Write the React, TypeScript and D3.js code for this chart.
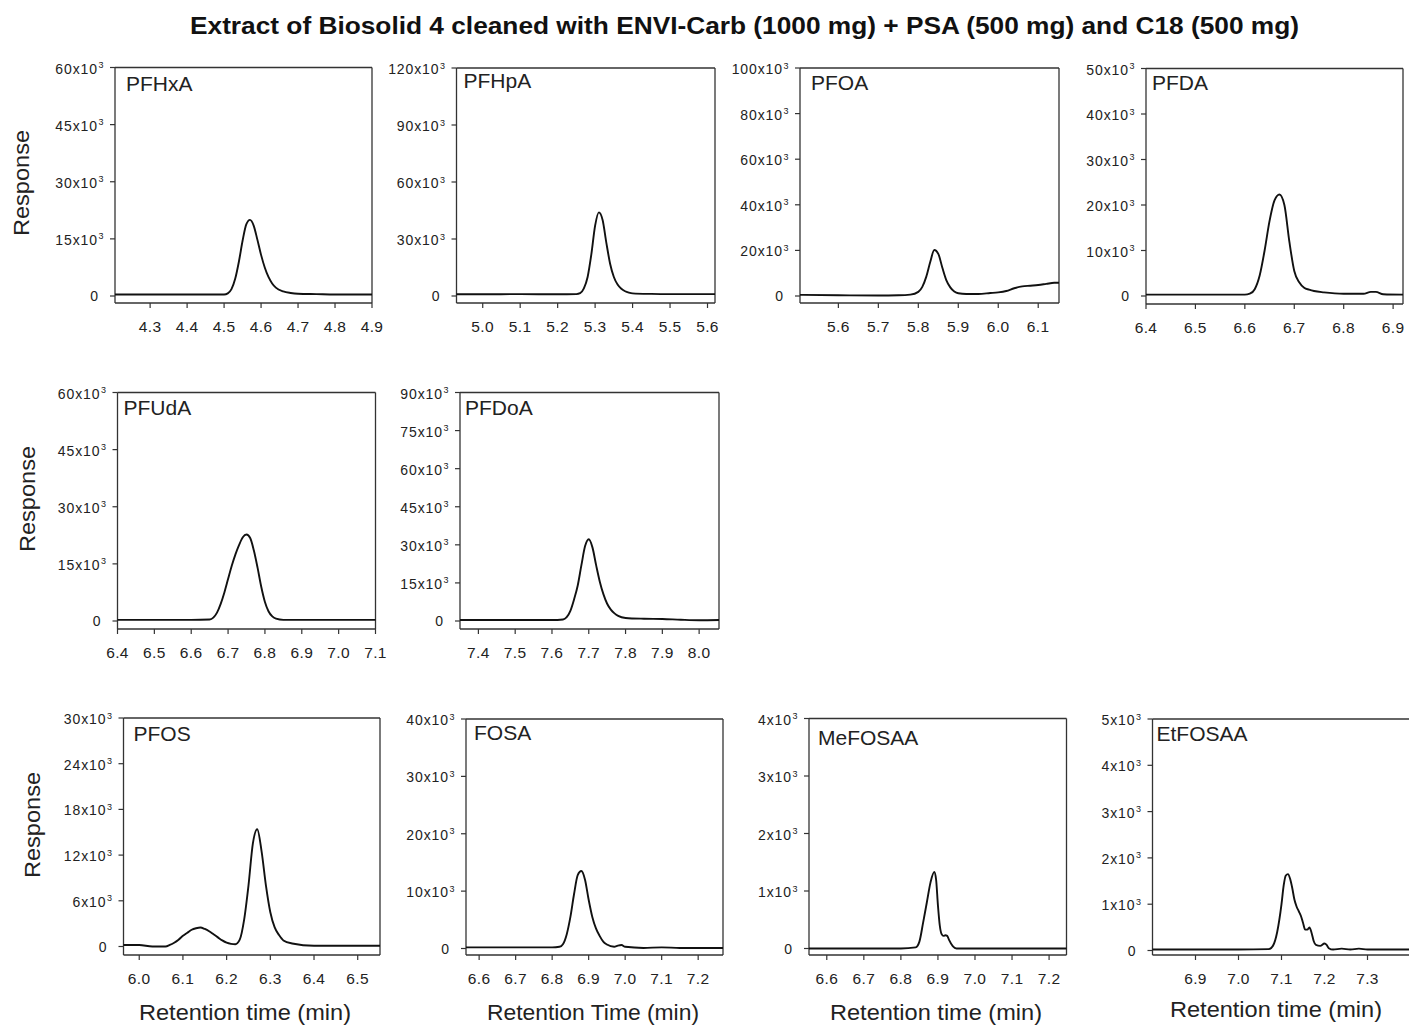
import * as d3 from "d3";

const WIDTH = 1409;
const HEIGHT = 1025;
const FONT = "Arial, 'Liberation Sans', Helvetica, sans-serif";

const TITLE = "Extract of Biosolid 4 cleaned with ENVI-Carb (1000 mg) + PSA (500 mg) and C18 (500 mg)";

// chromatogram traces: [retention time (min), response (x10^3)]
const PFHXA: [number, number][] = [
  [4.205, 0.4], [4.3, 0.4], [4.4, 0.4], [4.5, 0.4], [4.51, 0.7], [4.52, 1.8], [4.53, 4.5], [4.54, 9],
  [4.55, 14.5], [4.56, 18.8], [4.57, 20], [4.58, 18.5], [4.59, 14.8], [4.6, 10.8], [4.61, 7.5],
  [4.62, 5], [4.63, 3.3], [4.64, 2.2], [4.66, 1.2], [4.68, 0.8], [4.7, 0.6], [4.75, 0.5], [4.8, 0.4], [4.9, 0.4],
];
const PFHPA: [number, number][] = [
  [4.93, 0.9], [5.0, 0.9], [5.1, 1.0], [5.2, 0.9], [5.25, 1.0], [5.26, 1.5], [5.27, 4], [5.28, 10],
  [5.29, 22], [5.3, 37], [5.31, 44], [5.32, 40], [5.33, 28], [5.34, 17], [5.35, 10], [5.36, 6],
  [5.37, 3.8], [5.38, 2.5], [5.39, 1.8], [5.4, 1.4], [5.45, 1.1], [5.5, 1.0], [5.6, 1.0], [5.62, 1.0],
];
const PFOA: [number, number][] = [
  [5.504, 0.5], [5.6, 0.3], [5.7, 0.2], [5.75, 0.3], [5.78, 0.6], [5.8, 1.8], [5.81, 4], [5.82, 8.5],
  [5.83, 15], [5.84, 20.2], [5.85, 18.5], [5.86, 12.5], [5.87, 7], [5.88, 3.8], [5.89, 2], [5.9, 1.2],
  [5.92, 0.9], [5.95, 0.9], [5.98, 1.3], [6.0, 1.6], [6.02, 2.2], [6.04, 3.4], [6.06, 4.2], [6.08, 4.5],
  [6.1, 4.8], [6.12, 5.3], [6.14, 5.8], [6.152, 5.8],
];
const PFDA: [number, number][] = [
  [6.4, 0.3], [6.5, 0.3], [6.6, 0.3], [6.61, 0.5], [6.62, 1.5], [6.63, 4.5], [6.64, 10], [6.65, 16.5],
  [6.66, 21], [6.67, 22.3], [6.68, 20], [6.69, 12], [6.7, 5.5], [6.71, 3], [6.72, 1.8], [6.73, 1.4],
  [6.74, 1.1], [6.76, 0.8], [6.8, 0.5], [6.84, 0.5], [6.855, 0.9], [6.865, 0.9], [6.88, 0.4], [6.92, 0.3],
];
const PFUDA: [number, number][] = [
  [6.4, 0.3], [6.5, 0.3], [6.6, 0.3], [6.65, 0.4], [6.66, 0.9], [6.67, 2.2], [6.68, 4.5], [6.69, 7.5],
  [6.7, 11], [6.71, 14.5], [6.72, 17.5], [6.73, 20], [6.74, 22], [6.75, 22.7], [6.76, 21.8], [6.77, 18.5],
  [6.78, 14], [6.79, 9], [6.8, 5], [6.81, 2.5], [6.82, 1.2], [6.83, 0.6], [6.85, 0.3], [6.9, 0.3],
  [7.0, 0.3], [7.1, 0.3],
];
const PFDOA: [number, number][] = [
  [7.35, 0.4], [7.4, 0.4], [7.5, 0.4], [7.6, 0.4], [7.63, 0.6], [7.64, 1.5], [7.65, 4], [7.66, 8.5],
  [7.67, 14], [7.68, 22], [7.69, 29.5], [7.7, 32.2], [7.71, 29], [7.72, 22], [7.73, 15.5], [7.74, 10.5],
  [7.75, 6.8], [7.76, 4.5], [7.77, 3], [7.78, 2], [7.8, 1.2], [7.85, 0.9], [7.9, 0.8], [7.95, 0.5],
  [8.0, 0.3], [8.054, 0.4],
];
const PFOS: [number, number][] = [
  [5.964, 0.2], [6.0, 0.2], [6.03, 0.0], [6.06, 0.0], [6.07, 0.2], [6.08, 0.5], [6.09, 0.9], [6.1, 1.4],
  [6.11, 1.8], [6.12, 2.2], [6.13, 2.4], [6.14, 2.5], [6.15, 2.3], [6.16, 2.0], [6.17, 1.6], [6.18, 1.2],
  [6.19, 0.8], [6.2, 0.5], [6.21, 0.35], [6.22, 0.3], [6.23, 0.9], [6.24, 3.5], [6.25, 8], [6.26, 13.5],
  [6.27, 15.4], [6.28, 12.5], [6.29, 8], [6.3, 4.5], [6.31, 2.5], [6.32, 1.5], [6.33, 0.8], [6.35, 0.4],
  [6.4, 0.1], [6.45, 0.1], [6.5, 0.1], [6.551, 0.1],
];
const FOSA: [number, number][] = [
  [6.564, 0.2], [6.6, 0.2], [6.7, 0.2], [6.8, 0.2], [6.82, 0.3], [6.83, 0.8], [6.84, 2.5], [6.85, 5.5],
  [6.86, 9.5], [6.87, 12.8], [6.88, 13.5], [6.89, 12], [6.9, 8.5], [6.91, 5.5], [6.92, 3.5], [6.93, 2.2],
  [6.94, 1.2], [6.95, 0.7], [6.97, 0.3], [6.98, 0.5], [6.99, 0.6], [7.0, 0.3], [7.05, 0.1], [7.1, 0.2],
  [7.15, 0.1], [7.2, 0.1], [7.268, 0.1],
];
const MEFOSAA: [number, number][] = [
  [6.552, 0], [6.6, 0], [6.7, 0], [6.8, 0], [6.84, 0.02], [6.85, 0.12], [6.86, 0.45], [6.87, 0.8],
  [6.88, 1.15], [6.89, 1.33], [6.895, 1.2], [6.9, 0.75], [6.905, 0.4], [6.91, 0.25], [6.915, 0.22],
  [6.92, 0.23], [6.925, 0.22], [6.93, 0.15], [6.94, 0.04], [6.95, 0], [7.0, 0], [7.1, 0], [7.2, 0], [7.247, 0],
];
const ETFOSAA: [number, number][] = [
  [6.8, 0.02], [6.9, 0.02], [7.0, 0.02], [7.07, 0.03], [7.08, 0.1], [7.09, 0.4], [7.1, 1.0], [7.105, 1.4],
  [7.11, 1.62], [7.115, 1.65], [7.12, 1.55], [7.125, 1.35], [7.13, 1.1], [7.135, 0.95], [7.14, 0.85],
  [7.145, 0.75], [7.15, 0.6], [7.155, 0.45], [7.16, 0.45], [7.165, 0.5], [7.17, 0.38], [7.175, 0.2],
  [7.18, 0.12], [7.19, 0.1], [7.2, 0.15], [7.205, 0.12], [7.21, 0.05], [7.22, 0.02], [7.24, 0.04],
  [7.26, 0.02], [7.28, 0.04], [7.3, 0.02], [7.4, 0.02],
];

// axis ticks
const X_TICKS = {
  PFHxA: [4.3, 4.4, 4.5, 4.6, 4.7, 4.8, 4.9],
  PFHpA: [5.0, 5.1, 5.2, 5.3, 5.4, 5.5, 5.6],
  PFOA: [5.6, 5.7, 5.8, 5.9, 6.0, 6.1],
  PFDA: [6.4, 6.5, 6.6, 6.7, 6.8, 6.9],
  PFUdA: [6.4, 6.5, 6.6, 6.7, 6.8, 6.9, 7.0, 7.1],
  PFDoA: [7.4, 7.5, 7.6, 7.7, 7.8, 7.9, 8.0],
  PFOS: [6.0, 6.1, 6.2, 6.3, 6.4, 6.5],
  FOSA: [6.6, 6.7, 6.8, 6.9, 7.0, 7.1, 7.2],
  MeFOSAA: [6.6, 6.7, 6.8, 6.9, 7.0, 7.1, 7.2],
  EtFOSAA: [6.9, 7.0, 7.1, 7.2, 7.3],
};
const Y_TICKS = {
  PFHxA: [0, 15, 30, 45, 60],
  PFHpA: [0, 30, 60, 90, 120],
  PFOA: [0, 20, 40, 60, 80, 100],
  PFDA: [0, 10, 20, 30, 40, 50],
  PFUdA: [0, 15, 30, 45, 60],
  PFDoA: [0, 15, 30, 45, 60, 75, 90],
  PFOS: [0, 6, 12, 18, 24, 30],
  FOSA: [0, 10, 20, 30, 40],
  MeFOSAA: [0, 1, 2, 3, 4],
  EtFOSAA: [0, 1, 2, 3, 4, 5],
};

const X_DOMAINS = {
  PFHxA: [4.205, 4.9],
  PFHpA: [4.93, 5.62],
  PFOA: [5.504, 6.152],
  PFDA: [6.4, 6.92],
  PFUdA: [6.4, 7.1],
  PFDoA: [7.35, 8.054],
  PFOS: [5.964, 6.551],
  FOSA: [6.564, 7.268],
  MeFOSAA: [6.552, 7.247],
  EtFOSAA: [6.8, 7.4],
};

const TRACES = { PFHxA: PFHXA, PFHpA: PFHPA, PFOA, PFDA, PFUdA: PFUDA, PFDoA: PFDOA, PFOS, FOSA, MeFOSAA: MEFOSAA, EtFOSAA: ETFOSAA };

// panel boxes in pixels
const LAYOUT = [
  { name: "PFHxA", x0: 115, x1: 372, yTop: 67.5, yZero: 296, yAxis: 303, ldx: 11, ldy: 23 },
  { name: "PFHpA", x0: 456.5, x1: 715, yTop: 68, yZero: 296, yAxis: 303, ldx: 7, ldy: 20 },
  { name: "PFOA", x0: 800, x1: 1059, yTop: 68, yZero: 296, yAxis: 303, ldx: 11, ldy: 22 },
  { name: "PFDA", x0: 1146, x1: 1403, yTop: 68.5, yZero: 296, yAxis: 304, ldx: 6, ldy: 21 },
  { name: "PFUdA", x0: 117.5, x1: 375.5, yTop: 392.5, yZero: 621, yAxis: 629, ldx: 6, ldy: 22 },
  { name: "PFDoA", x0: 460, x1: 719, yTop: 392.5, yZero: 621, yAxis: 629, ldx: 5, ldy: 22 },
  { name: "PFOS", x0: 123.5, x1: 380, yTop: 718, yZero: 946.5, yAxis: 955, ldx: 10, ldy: 23 },
  { name: "FOSA", x0: 466, x1: 723, yTop: 719, yZero: 948.5, yAxis: 955, ldx: 8, ldy: 21 },
  { name: "MeFOSAA", x0: 809, x1: 1066.5, yTop: 718.5, yZero: 948.5, yAxis: 955, ldx: 9, ldy: 26 },
  { name: "EtFOSAA", x0: 1152.5, x1: 1410.5, yTop: 719, yZero: 950.5, yAxis: 955, ldx: 4, ldy: 22 },
];

const RESPONSE_LABELS = [
  { x: 29, y: 183 },
  { x: 35, y: 499 },
  { x: 40, y: 825 },
];
const X_TITLES = [
  { text: "Retention time (min)", x: 245, y: 1020 },
  { text: "Retention Time (min)", x: 593, y: 1020 },
  { text: "Retention time (min)", x: 936, y: 1020 },
  { text: "Retention time (min)", x: 1276, y: 1017 },
];

function Panel({ p }) {
  const xs = X_DOMAINS[p.name];
  const yt = Y_TICKS[p.name];
  const yMax = yt[yt.length - 1];
  const x = d3.scaleLinear().domain(xs).range([p.x0, p.x1]);
  const y = d3.scaleLinear().domain([0, yMax]).range([p.yZero, p.yTop]);
  const line = d3
    .line<[number, number]>()
    .x((d) => x(d[0]))
    .y((d) => y(d[1]))
    .curve(d3.curveMonotoneX);
  const axisColor = "#333";

  return (
    <g>
      {/* frame */}
      <line x1={p.x0} x2={p.x1} y1={p.yTop} y2={p.yTop} stroke={axisColor} strokeWidth={1.3} />
      <line x1={p.x1} x2={p.x1} y1={p.yTop} y2={p.yAxis} stroke={axisColor} strokeWidth={1.3} />
      <line x1={p.x0} x2={p.x0} y1={p.yTop} y2={p.yAxis} stroke={axisColor} strokeWidth={1.3} />
      <line x1={p.x0} x2={p.x1} y1={p.yAxis} y2={p.yAxis} stroke={axisColor} strokeWidth={1.3} />

      {yt.map((t) => (
        <g key={`y${t}`}>
          <line x1={p.x0 - 5} x2={p.x0} y1={y(t)} y2={y(t)} stroke={axisColor} strokeWidth={1.2} />
          {t === 0 ? (
            <text x={p.x0 - 17} y={y(t) + 5} textAnchor="end" fontSize={14} fill="#222">
              0
            </text>
          ) : (
            <>
              <text x={p.x0 - 17} y={y(t) + 6} textAnchor="end" fontSize={14} fill="#222" letterSpacing={0.9}>
                {`${t}x10`}
              </text>
              <text x={p.x0 - 16.5} y={y(t) + 0.5} fontSize={9} fill="#222">
                3
              </text>
            </>
          )}
        </g>
      ))}

      {X_TICKS[p.name].map((t) => (
        <g key={`x${t}`}>
          <line x1={x(t)} x2={x(t)} y1={p.yAxis} y2={p.yAxis + 5} stroke={axisColor} strokeWidth={1.2} />
          <text x={x(t)} y={p.yAxis + 28.5} textAnchor="middle" fontSize={15.5} fill="#222" letterSpacing={0.4}>
            {t.toFixed(1)}
          </text>
        </g>
      ))}

      <path d={line(TRACES[p.name]) || ""} fill="none" stroke="#111" strokeWidth={1.9} strokeLinejoin="round" />

      <text x={p.x0 + p.ldx} y={p.yTop + p.ldy} fontSize={21} fill="#222">
        {p.name}
      </text>
    </g>
  );
}

export default function App() {
  return (
    <svg
      width={WIDTH}
      height={HEIGHT}
      viewBox={`0 0 ${WIDTH} ${HEIGHT}`}
      style={{ position: "absolute", left: 0, top: 0, background: "#fff" }}
      fontFamily={FONT}
    >
      <rect width={WIDTH} height={HEIGHT} fill="#fff" />
      <text x={744.5} y={34} textAnchor="middle" fontSize={24} fontWeight="bold" fill="#111" textLength={1109} lengthAdjust="spacingAndGlyphs">
        {TITLE}
      </text>

      {LAYOUT.map((p) => (
        <Panel key={p.name} p={p} />
      ))}

      {RESPONSE_LABELS.map((r, i) => (
        <text key={`r${i}`} transform={`translate(${r.x} ${r.y}) rotate(-90)`} textAnchor="middle" fontSize={22} fill="#222" textLength={106} lengthAdjust="spacingAndGlyphs">
          Response
        </text>
      ))}

      {X_TITLES.map((t, i) => (
        <text key={`t${i}`} x={t.x} y={t.y} textAnchor="middle" fontSize={22} fill="#222" textLength={212} lengthAdjust="spacingAndGlyphs">
          {t.text}
        </text>
      ))}
    </svg>
  );
}
